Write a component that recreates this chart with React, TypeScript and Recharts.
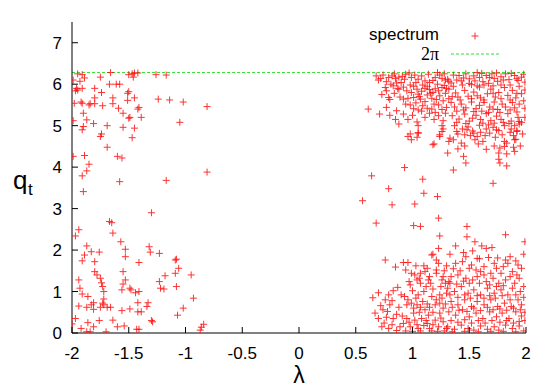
import { CartesianGrid, ReferenceLine, Scatter, ScatterChart, XAxis, YAxis } from "recharts"

// tick values
const xTicks = [-2, -1.5, -1, -0.5, 0, 0.5, 1, 1.5, 2]
const yTicks = [0, 1, 2, 3, 4, 5, 6, 7]
const twoPi = 6.283

// spectrum points [lambda, q_t]
const leftUpper: [number, number][] = [
  [-1.95, 6.25], [-1.91, 6.23], [-1.89, 6.15], [-1.93, 6.07], [-1.99, 6.1], [-1.75, 6.17], [-1.66, 6.28],
  [-1.5, 6.23], [-1.47, 6.25], [-1.45, 6.27], [-1.42, 6.27], [-1.46, 6.17], [-1.26, 6.23], [-1.17, 6.22],
  [-1.67, 6.0], [-1.61, 6.0], [-1.58, 6.0], [-1.96, 5.9], [-1.95, 5.86], [-1.97, 5.84], [-1.91, 5.9],
  [-1.8, 5.9], [-1.74, 5.8], [-1.5, 5.82], [-1.51, 5.78], [-1.98, 5.54], [-1.92, 5.57], [-1.91, 5.54],
  [-1.85, 5.5], [-1.84, 5.53], [-1.8, 5.53], [-1.8, 5.67], [-1.73, 5.48], [-1.64, 5.67], [-1.64, 5.53],
  [-1.59, 5.42], [-1.51, 5.61], [-1.45, 5.67], [-1.42, 5.4], [-1.41, 5.44], [-1.24, 5.64], [-1.14, 5.62],
  [-1.02, 5.57], [-0.81, 5.46], [-1.9, 5.3], [-1.55, 5.3], [-1.49, 5.2], [-1.5, 5.18], [-1.39, 5.2],
  [-1.99, 5.12], [-1.87, 5.14], [-1.81, 5.05], [-1.9, 4.98], [-1.91, 4.9], [-1.69, 5.0], [-1.55, 4.96],
  [-1.45, 4.94], [-1.05, 5.08], [-1.74, 4.8], [-1.75, 4.74], [-1.47, 4.71], [-1.69, 4.48], [-1.99, 4.26],
  [-1.89, 4.28], [-1.6, 4.26], [-1.56, 4.22], [-1.85, 4.07], [-1.87, 3.91], [-1.91, 3.79], [-0.81, 3.88],
  [-1.58, 3.65], [-1.17, 3.68], [-1.9, 3.41],
]

const leftLower: [number, number][] = [
  [-1.3, 2.9], [-1.94, 2.49], [-1.97, 2.34], [-1.67, 2.69], [-1.65, 2.66], [-1.64, 2.41], [-1.57, 2.2],
  [-1.87, 2.1], [-1.89, 1.88], [-1.91, 1.74], [-1.83, 1.96], [-1.76, 1.95], [-1.8, 1.72], [-1.53, 2.02],
  [-1.53, 1.84], [-1.41, 1.7], [-1.32, 2.08], [-1.31, 1.95], [-1.23, 1.92], [-1.08, 1.78], [-1.09, 1.76],
  [-1.06, 1.56], [-1.09, 1.44], [-0.95, 1.4], [-1.94, 1.28], [-1.8, 1.48], [-1.78, 1.4], [-1.75, 1.32],
  [-1.74, 1.21], [-1.73, 1.12], [-1.72, 1.0], [-1.55, 1.48], [-1.53, 1.28], [-1.55, 1.18], [-1.56, 1.04],
  [-1.49, 1.08], [-1.48, 1.04], [-1.44, 0.97], [-1.41, 1.0], [-1.23, 1.24], [-1.22, 1.08], [-1.19, 1.06],
  [-1.18, 1.38], [-1.08, 1.12], [-0.93, 0.84], [-1.93, 1.08], [-1.91, 0.94], [-1.86, 0.88], [-1.81, 0.73],
  [-1.83, 0.68], [-1.94, 0.65], [-1.87, 0.62], [-1.72, 0.68], [-1.75, 0.62], [-1.69, 0.62], [-1.66, 0.62],
  [-1.72, 0.82], [-1.81, 0.57], [-1.73, 0.72], [-1.56, 0.54], [-1.49, 0.58], [-1.42, 0.73], [-1.42, 0.51],
  [-1.39, 0.51], [-1.34, 0.64], [-1.33, 0.73], [-1.3, 0.3], [-1.29, 0.27], [-1.07, 0.43], [-1.02, 0.6],
  [-1.97, 0.35], [-1.86, 0.25], [-1.81, 0.15], [-1.76, 0.3], [-1.64, 0.31], [-1.6, 0.15], [-1.54, 0.17],
  [-1.43, 0.09], [-1.41, 0.09], [-1.92, 0.11], [-1.87, 0.03], [-1.84, 0.03], [-1.7, 0.03], [-0.84, 0.21],
  [-0.86, 0.14], [-0.87, 0.07], [-2.0, 0.22],
]

const rightUpper: [number, number][] = [
  [0.97, 6.27], [1.22, 6.28], [0.68, 6.2], [0.7, 6.1], [0.79, 6.16], [0.82, 6.2], [0.85, 6.14], [0.88, 6.17],
  [0.91, 6.19], [0.93, 6.12], [0.99, 6.16], [0.77, 6.06], [0.81, 6.0], [0.86, 6.03], [0.9, 6.04], [1.05, 6.12],
  [1.11, 6.08], [1.15, 6.04], [1.18, 6.09], [1.26, 6.14], [1.29, 6.1], [1.32, 6.07], [0.76, 5.92], [0.77, 5.84],
  [0.88, 5.88], [0.92, 5.93], [0.95, 5.84], [1.01, 5.95], [1.04, 5.88], [1.08, 5.83], [1.11, 5.9], [1.15, 5.87],
  [1.18, 5.8], [1.2, 5.89], [1.23, 5.84], [1.26, 5.92], [1.3, 5.9], [0.79, 5.68], [0.8, 5.63], [0.89, 5.69],
  [0.92, 5.64], [0.96, 5.66], [1.01, 5.68], [1.05, 5.76], [1.07, 5.64], [1.13, 5.74], [1.17, 5.66], [1.21, 5.63],
  [1.24, 5.72], [1.27, 5.6], [1.32, 5.65], [0.61, 5.4], [0.77, 5.44], [0.86, 5.36], [0.71, 5.28], [0.8, 5.25],
  [1.01, 5.41], [1.05, 5.38], [1.08, 5.35], [1.13, 5.42], [1.17, 5.4], [1.26, 5.39], [1.3, 5.44], [0.85, 5.15],
  [0.88, 5.04], [0.96, 5.15], [1.04, 5.09], [1.05, 5.0], [1.23, 5.24], [1.27, 5.12], [1.26, 5.0], [1.27, 4.92],
  [0.98, 4.8], [1.05, 4.83],
  [1.31, 6.12], [1.34, 6.03], [1.41, 6.21], [1.43, 6.08], [1.47, 6.25], [1.5, 6.13], [1.52, 5.99], [1.57, 6.28],
  [1.59, 6.16], [1.62, 6.06], [1.65, 6.21], [1.72, 6.14], [1.75, 6.07], [1.78, 6.18], [1.82, 6.25], [1.85, 6.11],
  [1.9, 6.21], [1.93, 6.09], [1.96, 6.17], [1.32, 5.88], [1.38, 5.79], [1.4, 5.69], [1.46, 5.85], [1.49, 5.71],
  [1.54, 5.81], [1.59, 5.93], [1.6, 5.67], [1.66, 5.77], [1.69, 5.88], [1.73, 5.69], [1.76, 5.8], [1.81, 5.92],
  [1.84, 5.73], [1.88, 5.85], [1.91, 5.67], [1.96, 5.77], [1.34, 5.56], [1.37, 5.45], [1.43, 5.52], [1.47, 5.43],
  [1.52, 5.57], [1.56, 5.41], [1.59, 5.49], [1.63, 5.56], [1.68, 5.45], [1.72, 5.57], [1.75, 5.39], [1.79, 5.52],
  [1.82, 5.45], [1.88, 5.56], [1.9, 5.43], [1.94, 5.52], [1.35, 5.24], [1.41, 5.16], [1.46, 5.28], [1.5, 5.11],
  [1.56, 5.25], [1.6, 5.15], [1.65, 5.29], [1.69, 5.12], [1.74, 5.23], [1.78, 5.15], [1.84, 5.29], [1.87, 5.11],
  [1.93, 5.2], [1.96, 5.08], [1.37, 5.0], [1.44, 4.92], [1.49, 4.97], [1.53, 4.87], [1.59, 5.01], [1.65, 4.92],
  [1.71, 4.96], [1.76, 4.88], [1.81, 5.0], [1.87, 4.92], [1.94, 5.04],
]

const rightUpperDense: [number, number][] = [
  [0.72, 6.14], [0.74, 6.22], [0.84, 6.25], [0.94, 6.24], [1.02, 6.22], [1.08, 6.2], [1.14, 6.24], [1.2, 6.16],
  [1.24, 6.22], [1.28, 6.25], [0.83, 5.96], [0.87, 5.9], [0.98, 5.98], [1.03, 6.04], [1.09, 5.98], [1.13, 5.95],
  [1.22, 6.0], [1.28, 5.97], [0.73, 5.75], [0.84, 5.78], [0.99, 5.8], [1.06, 5.7], [1.16, 5.78], [1.29, 5.78],
  [1.11, 5.58], [1.19, 5.52], [1.23, 5.5], [0.94, 5.52], [0.98, 5.5], [1.03, 5.55], [1.09, 5.48], [1.15, 5.3],
  [1.2, 5.32], [1.11, 5.2], [1.19, 5.15], [1.29, 5.3], [0.92, 5.28], [1.0, 5.25],
  [1.36, 6.22], [1.39, 6.1], [1.45, 6.15], [1.54, 6.2], [1.55, 6.08], [1.61, 6.26], [1.68, 6.16], [1.7, 6.25],
  [1.74, 6.27], [1.8, 6.1], [1.87, 6.26], [1.92, 6.13], [1.98, 6.24], [1.99, 6.05], [1.36, 5.95], [1.44, 5.98],
  [1.5, 6.02], [1.57, 5.96], [1.63, 5.98], [1.67, 6.02], [1.71, 5.96], [1.78, 5.98], [1.86, 5.98], [1.94, 5.95],
  [1.99, 5.86], [1.35, 5.7], [1.42, 5.62], [1.52, 5.65], [1.57, 5.72], [1.63, 5.62], [1.71, 5.78], [1.78, 5.65],
  [1.86, 5.62], [1.92, 5.78], [1.98, 5.6], [1.39, 5.35], [1.45, 5.38], [1.54, 5.34], [1.61, 5.35], [1.67, 5.32],
  [1.71, 5.4], [1.77, 5.32], [1.86, 5.38], [1.92, 5.33], [1.99, 5.42], [1.39, 5.08], [1.47, 5.05], [1.53, 5.18],
  [1.62, 5.06], [1.67, 5.02], [1.72, 5.06], [1.8, 5.08], [1.85, 5.05], [1.9, 5.0], [1.99, 5.2], [1.4, 4.8],
  [1.48, 4.9], [1.6, 4.84], [1.68, 4.82], [1.74, 4.9], [1.79, 4.78], [1.86, 4.84], [1.97, 4.8],
]

const rightMiddle: [number, number][] = [
  [0.96, 4.74], [0.99, 4.66], [1.05, 4.82], [1.04, 4.72], [1.18, 4.54], [1.19, 4.56], [1.24, 4.78], [1.26, 4.86],
  [1.24, 4.74], [1.31, 4.34], [1.33, 4.7], [1.32, 4.62], [1.36, 4.66], [1.39, 4.86], [1.4, 4.44], [1.43, 4.58],
  [1.46, 4.51], [1.46, 4.78], [1.51, 4.76], [1.54, 4.82], [1.55, 4.66], [1.57, 4.74], [1.58, 4.56], [1.45, 4.26],
  [1.47, 4.1], [1.36, 3.93], [1.62, 4.62], [1.64, 4.76], [1.65, 4.43], [1.73, 4.72], [1.72, 4.51], [1.77, 4.46],
  [1.76, 4.34], [1.76, 4.19], [1.77, 4.1], [1.81, 4.62], [1.83, 4.58], [1.81, 4.5], [1.83, 4.32], [1.83, 4.03],
  [1.89, 4.76], [1.9, 4.66], [1.89, 4.48], [1.9, 4.38], [1.95, 4.51], [1.92, 4.86], [1.94, 5.1], [1.92, 4.88],
  [1.91, 4.67], [0.64, 3.79], [0.93, 3.99], [1.09, 3.71], [1.1, 3.37], [0.79, 3.48], [0.56, 3.19], [0.82, 3.09],
  [1.02, 3.11], [1.22, 3.29], [1.71, 3.61], [0.68, 2.65], [1.01, 2.59], [1.07, 2.57], [1.23, 2.77], [1.48, 2.57],
]

const rightLower: [number, number][] = [
  [1.24, 2.34], [1.23, 2.04], [1.17, 1.88], [1.18, 1.9], [1.21, 1.76], [1.23, 1.68], [1.21, 1.52], [1.21, 1.44],
  [0.76, 1.76], [0.92, 1.7], [0.96, 1.7], [0.85, 1.59], [1.1, 1.62], [1.11, 1.48], [0.99, 1.44], [1.02, 1.4],
  [1.07, 1.44], [1.04, 1.28], [1.07, 1.2], [0.97, 1.24], [0.98, 1.16], [1.14, 1.28], [1.15, 1.36], [1.26, 1.28],
  [1.27, 1.36], [1.32, 1.24], [0.7, 0.97], [0.65, 0.85], [0.76, 0.8], [0.79, 0.92], [0.8, 0.68], [0.74, 0.56],
  [0.93, 0.88], [0.96, 0.8], [0.95, 0.68], [1.01, 0.6], [1.04, 0.68], [1.07, 0.62], [1.11, 0.56], [1.15, 0.62],
  [1.2, 0.68], [1.24, 0.72], [1.27, 0.6], [1.05, 0.92], [1.1, 1.0], [1.17, 0.88], [1.24, 0.92], [1.3, 0.96],
  [0.7, 0.35], [0.77, 0.38], [0.83, 0.35], [0.73, 0.15], [0.79, 0.11], [0.89, 0.15], [0.92, 0.23], [0.95, 0.35],
  [0.98, 0.15], [1.02, 0.31], [1.05, 0.11], [1.08, 0.35], [1.13, 0.23], [1.15, 0.11], [1.2, 0.31], [1.23, 0.15],
  [1.27, 0.27], [1.3, 0.11], [1.01, 0.48], [1.14, 0.43], [1.24, 0.48],
  [1.48, 2.32], [1.82, 2.37], [1.38, 2.1], [1.61, 2.1], [1.65, 2.04], [1.47, 1.84], [1.57, 1.8], [1.59, 1.79],
  [1.75, 1.81], [1.82, 1.76], [1.84, 1.68], [1.93, 1.64], [1.38, 1.68], [1.44, 1.72], [1.52, 1.64], [1.56, 1.52],
  [1.6, 1.48], [1.72, 1.68], [1.74, 1.56], [1.78, 1.44], [1.88, 1.48], [1.96, 1.56], [1.34, 1.36], [1.4, 1.4],
  [1.47, 1.32], [1.53, 1.28], [1.57, 1.36], [1.65, 1.24], [1.71, 1.32], [1.76, 1.2], [1.82, 1.28], [1.9, 1.2],
  [1.94, 1.32], [1.31, 1.08], [1.37, 1.0], [1.43, 1.12], [1.49, 0.96], [1.54, 1.04], [1.6, 0.92], [1.66, 1.08],
  [1.72, 0.96], [1.78, 1.04], [1.84, 0.92], [1.88, 1.08], [1.95, 1.0], [1.34, 0.76], [1.4, 0.68], [1.46, 0.8],
  [1.52, 0.64], [1.57, 0.76], [1.63, 0.68], [1.69, 0.8], [1.75, 0.64], [1.81, 0.72], [1.87, 0.64], [1.93, 0.8],
  [1.96, 0.68], [1.32, 0.51], [1.38, 0.43], [1.44, 0.56], [1.5, 0.39], [1.56, 0.48], [1.62, 0.35], [1.68, 0.51],
  [1.74, 0.39], [1.79, 0.48], [1.85, 0.35], [1.91, 0.51], [1.96, 0.41], [1.31, 0.15], [1.37, 0.09], [1.43, 0.19],
  [1.49, 0.11], [1.54, 0.07], [1.6, 0.17], [1.66, 0.09], [1.72, 0.15], [1.76, 0.07], [1.82, 0.19], [1.88, 0.11],
  [1.94, 0.17],
]

const rightLowerDense: [number, number][] = [
  [0.67, 0.48], [0.72, 0.66], [0.78, 0.52], [0.82, 0.78], [0.86, 0.45], [0.88, 0.62], [0.9, 0.92], [0.91, 0.41],
  [0.87, 1.1], [0.83, 1.02], [0.75, 0.24], [0.82, 0.2], [0.86, 0.06], [0.94, 0.05], [0.97, 0.26], [1.0, 0.04],
  [1.04, 0.2], [1.07, 0.05], [1.1, 0.18], [1.12, 0.3], [1.17, 0.05], [1.18, 0.2], [1.22, 0.04], [1.25, 0.36],
  [1.28, 0.05], [0.99, 0.72], [1.03, 0.84], [1.06, 0.5], [1.09, 0.76], [1.13, 0.7], [1.18, 0.5], [1.21, 0.8],
  [1.26, 0.84], [1.29, 0.7], [1.12, 1.12], [1.18, 1.06], [1.25, 1.12], [1.29, 1.2], [1.0, 1.02], [1.06, 1.32],
  [1.13, 1.56], [1.16, 1.2], [1.28, 1.5], [1.3, 1.62], [0.94, 1.52], [1.03, 1.62],
  [1.33, 1.9], [1.36, 1.55], [1.42, 1.5], [1.45, 1.94], [1.5, 1.56], [1.53, 1.98], [1.63, 1.6], [1.67, 1.82],
  [1.69, 1.44], [1.8, 1.6], [1.86, 1.84], [1.91, 1.74], [1.98, 1.9], [1.99, 2.2], [1.7, 2.06], [1.55, 2.2],
  [1.33, 1.2], [1.39, 1.18], [1.45, 1.25], [1.5, 1.2], [1.59, 1.2], [1.63, 1.4], [1.68, 1.16], [1.74, 1.12],
  [1.8, 1.14], [1.86, 1.36], [1.92, 1.4], [1.98, 1.12], [1.33, 0.92], [1.4, 0.86], [1.46, 0.92], [1.51, 0.84],
  [1.57, 0.9], [1.63, 0.84], [1.68, 0.9], [1.73, 0.84], [1.79, 0.9], [1.86, 0.8], [1.91, 0.92], [1.98, 0.86],
  [1.35, 0.62], [1.41, 0.55], [1.48, 0.52], [1.54, 0.6], [1.6, 0.54], [1.66, 0.62], [1.71, 0.56], [1.77, 0.58],
  [1.83, 0.55], [1.89, 0.6], [1.95, 0.56], [1.99, 0.5], [1.34, 0.3], [1.4, 0.26], [1.46, 0.32], [1.52, 0.24],
  [1.58, 0.3], [1.64, 0.24], [1.7, 0.3], [1.77, 0.26], [1.83, 0.3], [1.89, 0.24], [1.94, 0.28], [1.99, 0.3],
  [1.35, 0.03], [1.46, 0.04], [1.58, 0.03], [1.69, 0.04], [1.8, 0.04], [1.91, 0.03], [1.98, 0.05],
]

const spectrum = [
  ...leftUpper,
  ...leftLower,
  ...rightUpper,
  ...rightUpperDense,
  ...rightMiddle,
  ...rightLower,
  ...rightLowerDense,
].map(([x, y]) => ({ x, y }))

const FONT = "'Liberation Sans', Arial, Helvetica, sans-serif"
const RED = "#ff0000"
const GREEN = "#33e033"

function Plus(props: any) {
  const { cx, cy } = props
  if (cx == null || cy == null) return null
  return (
    <g stroke={RED} strokeWidth={1} opacity={0.8}>
      <line x1={cx - 3.5} y1={cy} x2={cx + 3.5} y2={cy} />
      <line x1={cx} y1={cy - 3.5} x2={cx} y2={cy + 3.5} />
    </g>
  )
}

// gnuplot style ticks: short line inward, label outside
function BottomTick({ x, y, payload }: any) {
  return (
    <g>
      <line x1={x} y1={y} x2={x} y2={y - 6} stroke="#000" />
      <text x={x} y={y + 26} textAnchor="middle" fontSize={17} fontFamily={FONT} fill="#000">
        {payload.value}
      </text>
    </g>
  )
}

function TopTick({ x, y }: any) {
  return <line x1={x} y1={y} x2={x} y2={y + 6} stroke="#000" />
}

function LeftTick({ x, y, payload }: any) {
  return (
    <g>
      <line x1={x} y1={y} x2={x + 6} y2={y} stroke="#000" />
      <text x={x - 10} y={y + 6} textAnchor="end" fontSize={17} fontFamily={FONT} fill="#000">
        {payload.value}
      </text>
    </g>
  )
}

function RightTick({ x, y }: any) {
  return <line x1={x} y1={y} x2={x - 6} y2={y} stroke="#000" />
}

export default function App() {
  return (
    <div style={{ position: "absolute", left: 0, top: 0, width: 554, height: 388, background: "#fff" }}>
      <ScatterChart width={554} height={388} margin={{ top: 22, right: 28, bottom: 25, left: 22 }}>
        <CartesianGrid stroke="none" />
        <XAxis
          type="number"
          dataKey="x"
          domain={[-2, 2]}
          ticks={xTicks}
          interval={0}
          allowDataOverflow
          height={30}
          tickSize={0}
          tickMargin={0}
          tickLine={false}
          axisLine={{ stroke: "#000" }}
          tick={<BottomTick />}
        />
        <XAxis
          xAxisId="top"
          orientation="top"
          type="number"
          domain={[-2, 2]}
          ticks={xTicks}
          interval={0}
          height={0}
          tickSize={0}
          tickMargin={0}
          tickLine={false}
          axisLine={{ stroke: "#000" }}
          tick={<TopTick />}
        />
        <YAxis
          type="number"
          dataKey="y"
          domain={[0, 7.5]}
          ticks={yTicks}
          interval={0}
          allowDataOverflow
          width={50}
          tickSize={0}
          tickMargin={0}
          tickLine={false}
          axisLine={{ stroke: "#000" }}
          tick={<LeftTick />}
        />
        <YAxis
          yAxisId="right"
          orientation="right"
          type="number"
          domain={[0, 7.5]}
          ticks={yTicks}
          interval={0}
          width={0}
          tickSize={0}
          tickMargin={0}
          tickLine={false}
          axisLine={{ stroke: "#000" }}
          tick={<RightTick />}
        />
        <ReferenceLine y={twoPi} stroke={GREEN} strokeDasharray="3 2" strokeWidth={1} ifOverflow="visible" />
        <Scatter name="spectrum" data={spectrum} shape={<Plus />} isAnimationActive={false} />
      </ScatterChart>
      <svg width={554} height={388} style={{ position: "absolute", left: 0, top: 0, pointerEvents: "none" }}>
        <text x={439} y={40} textAnchor="end" fontSize={17} fontFamily={FONT} fill="#000">spectrum</text>
        <Plus cx={475} cy={36} />
        <text x={439} y={60} textAnchor="end" fontSize={18} fontFamily="'Liberation Serif', 'Times New Roman', serif" fill="#000">2π</text>
        <line x1={451} y1={54} x2={500} y2={54} stroke={GREEN} strokeDasharray="3 2" />
        <text x={13} y={189} fontSize={26} fontFamily={FONT} fill="#000">q</text>
        <text x={28} y={195} fontSize={17} fontFamily={FONT} fill="#000">t</text>
        <text x={299} y={383} textAnchor="middle" fontSize={23} fontFamily={FONT} fill="#000">λ</text>
      </svg>
    </div>
  )
}
